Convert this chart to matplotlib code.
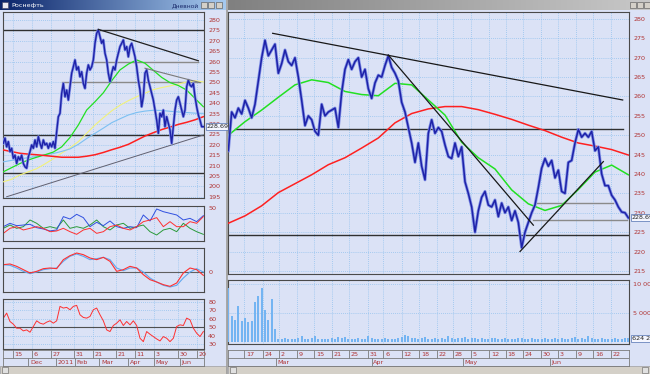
import numpy as np
import matplotlib
matplotlib.use('Agg')
import matplotlib.pyplot as plt
from matplotlib.patches import Rectangle
from matplotlib.colors import LinearSegmentedColormap

# ======================= DATA =======================
# ---- left window (daily, Nov 2010 - Jun 2011) ----
left_close = [220.7, 223.2, 219, 221.5, 216.7, 218.3, 213.5, 215, 211, 214.2,
              212.7, 215, 211, 209.4, 208.7, 214.2, 216.7, 219.9, 218.3, 222.3,
              219, 223.9, 220.7, 218.3, 222.3, 219.9, 220.7, 218.3, 220.7, 219,
              221.5, 218.3, 226.3, 233.5, 235.1, 244.7, 249.5, 243.1, 246.3, 241.5,
              247.9, 254.4, 257.5, 260.8, 256, 257.5, 252.7, 255.1, 249.5, 247.1,
              254.4, 258.4, 256, 257.5, 260.8, 268.8, 273.6, 275.2, 272, 268.8,
              270.4, 264, 260.8, 254.4, 250.3, 254.4, 257.5, 256, 260.8, 264,
              267.2, 268.8, 270.4, 265.6, 267.2, 262.3, 267.2, 268.8, 265.6, 262.3,
              257.5, 251.1, 246.3, 238.3, 243.1, 254.4, 256, 251.1, 247.9, 244.7,
              241.5, 236.7, 231.9, 225.5, 235.1, 233.5, 236.7, 228.7, 233.5, 230.3,
              227.1, 220.7, 228.7, 236.7, 241.5, 243.1, 240, 236.7, 233.5, 236.7,
              247.9, 251.1, 248.7, 247.9, 249.5, 243.1, 238.3, 234.3, 231.9, 228.7,
              228.7]
# moving averages, one value every 5 bars
left_ma_green = [207, 209, 211, 212.7, 214, 215.2, 216.5, 219, 223.5, 229.5, 236.7, 240.7,
                 245, 250.8, 256, 258.8, 260.8, 259.2, 255.8, 252.4, 249.9, 248.5, 246.3,
                 242.3, 238.3]
left_ma_yellow = [202.2, 203.4, 205.5, 207, 208.5, 210.8, 213.3, 216, 218.5, 221.5, 225.5,
                  229.5, 233, 236.3, 239, 241.2, 243.1, 244.8, 246.5, 247.5, 248.3, 249.2,
                  250.2, 250.8, 250.2]
left_ma_blue = [211.8, 212.5, 213.2, 213.8, 214.4, 215.2, 215.8, 216.8, 218, 220.2, 223,
                225.5, 228, 230.6, 232.5, 234.3, 235.5, 236.2, 236.6, 236.5, 236.1, 235.8,
                235.5, 235.2, 235.1]
left_ma_red = [217.5, 216.7, 215.9, 215.5, 215.2, 214.8, 214.4, 214, 214, 214, 214.5, 215.2,
               216.3, 217.6, 218.8, 220.2, 222.2, 224.2, 225.8, 227.3, 228.5, 229.8, 230.8,
               232, 233.5]
left_hlines = [275.2, 224.7, 206.3]
left_trend_dark = ([57, 117], [275.5, 260.4])
left_trend_gray = ([85, 118], [256.8, 249.9])
left_trend_up = ([2, 120], [195.0, 224.7])
left_gray_h = [([54, 117], 260.0), ([35, 118], 250.3)]
left_last = '228.69'

# DMI-like panel (one value every 4 bars)
dmi_blue = [21.7, 26.8, 23.2, 24.2, 25.3, 20.2, 18.2, 15.2, 16.7, 36.9, 33.3, 40.4, 35.4,
            21.7, 28.3, 23.2, 30.3, 21.7, 19.2, 21.7, 20.2, 39.4, 30.3, 48.5, 44.4, 41.9,
            39.4, 31.8, 34.3, 29.3, 38.4]
dmi_red = [11.6, 19.2, 21.7, 16.7, 19.2, 21.7, 19.2, 14.1, 15.2, 19.2, 14.1, 10.1, 16.7,
           19.2, 11.6, 14.1, 21.7, 24.2, 19.2, 16.7, 21.7, 29.3, 31.8, 35.4, 21.7, 29.3,
           21.7, 21.7, 29.3, 26.8, 36.9]
dmi_green = [19.2, 24.2, 19.2, 21.7, 31.8, 26.8, 19.2, 21.7, 19.2, 31.8, 19.2, 21.7, 19.2,
             24.2, 31.8, 21.7, 16.7, 24.2, 26.8, 19.2, 21.7, 24.2, 14.1, 9.1, 16.7, 19.2,
             14.1, 26.8, 19.2, 14.1, 10.1]
# MACD-like panel (one value every 4 bars)
macd_red = [2.3, 2.5, 1.8, 0.8, -0.2, 0.3, 1.1, 1.3, 1.1, 3.8, 5.0, 5.8, 5.3, 4.3, 3.8, 4.5,
            3.3, 0.3, 0.8, 1.8, 1.3, -0.7, -2.2, -2.9, -3.7, -4.2, -3.2, -0.2, 1.3, 0.8, -0.9]
macd_blue = [2.3, 2.1, 1.3, 0.3, -0.4, 0.1, 0.8, 1.1, 1.3, 3.3, 4.8, 5.5, 4.8, 3.8, 4.1, 4.5,
             3.8, 1.3, 0.5, 1.3, 1.3, 0.1, -1.7, -2.9, -3.9, -4.4, -3.9, -1.7, 0.1, 1.1, 0.1]
# RSI (one value every 2 bars)
rsi = [60.8, 66.8, 56.8, 53.6, 48.8, 48.8, 45.6, 46.8, 44, 50.8, 57.6, 54.8, 53.6, 56, 57.6,
       54.8, 57.6, 74.8, 72.8, 73.6, 70.8, 74.8, 76, 64.8, 61.6, 60.8, 62.8, 70.8, 72.8, 64.8,
       57.6, 46.8, 44.8, 52, 54.8, 58.8, 52, 56.8, 52.8, 57.6, 52, 36.8, 32.8, 44.8, 41.6,
       38.8, 36, 33.6, 38.8, 36.8, 32.8, 36.8, 50.8, 52.8, 52, 60.8, 58.8, 48.8, 42.8, 38.8,
       44.8]

left_day_pos = [5.6, 17, 28.4, 42.4, 54, 67.6, 79, 90.4, 105, 116]
left_day_lab = ['15', '6', '27', '31', '21', '21', '11', '3', '30', '20']
left_mon_pos = [15, 31.6, 43, 57.6, 75, 90.4, 106]
left_mon_lab = ['Dec', '2011', 'Feb', 'Mar', 'Apr', 'May', 'Jun']

# ---- right window (Feb - Jun 2011) ----
right_close = [246, 256, 254.5, 257, 255.5, 259, 257, 254.5, 258, 264, 270, 274.5, 270.5, 272,
               273.5, 266, 268.5, 272, 269, 268, 270, 265, 259, 252.5, 255, 254, 251, 250,
               258, 255, 256, 256.5, 257, 252, 261, 267, 269.5, 267, 269, 270, 265, 267, 262,
               259.5, 263.5, 265.5, 265, 268, 270.5, 267.5, 266, 264, 258.5, 256, 252, 248,
               243, 248, 242, 238.5, 250.5, 254, 250.5, 252, 251,
               247.5, 244.5, 244, 248, 244.5, 247, 238, 235, 231.5, 225, 230.5, 234, 235.5,
               232, 231.5, 233.3, 229, 232.5, 230, 231.5, 228, 230.5, 227.5, 221, 225, 227.5,
               230, 232, 236.5, 241.5, 244, 242, 243.5, 239, 241, 235.5, 235, 243, 243.5, 248,
               251.5, 249.5, 250.5, 249.5, 251, 246, 247, 240, 237, 237, 234.5, 233.3, 231.5,
               230.2, 230, 228.7]
# moving averages, one value every 5 bars
right_ma_green = [250, 253.5, 256.5, 259.8, 263, 264.3, 263.6, 261.3, 260.5, 260.2, 263.4,
                  263, 259.1, 255.2, 248.2, 244.2, 241.3, 235.9, 232.3, 230.6, 231.9, 236,
                  240.5, 242.3, 239.8]
right_ma_red = [227.3, 229.2, 231.8, 235.2, 237.5, 239.8, 242.4, 244.2, 246.7, 249.3, 253.2,
                255.6, 256.8, 257.4, 257.4, 256.6, 255.4, 254.1, 252.6, 251.2, 249.5, 248,
                247.2, 246.3, 244.9]
# volume, millions of shares
right_volume_m = [9.2, 4.4, 3.7, 6.2, 3.6, 4.0, 3.4, 3.6, 6.8, 7.8, 9.2, 5.5, 3.8, 7.3, 2.2,
                  0.5, 0.4, 0.6, 0.4, 0.5, 0.4, 0.6, 0.9, 0.5, 0.4,
                  0.6, 1.0, 0.5, 0.4, 0.5, 0.4, 0.6, 0.5, 0.8, 0.7,
                  0.8, 0.5, 0.4, 0.5, 0.6, 0.4, 0.5, 0.9, 0.6, 0.4,
                  0.5, 0.4, 0.6, 0.5, 0.4, 0.5, 0.7, 0.8, 1.1, 1.0,
                  0.6, 0.7, 0.5, 0.6, 0.8, 0.5, 0.4, 0.6, 0.5, 0.6,
                  0.5, 0.9, 0.6, 0.5, 0.7, 0.6, 0.8, 0.5, 0.6, 0.7,
                  0.5, 0.6, 0.4, 0.5, 0.6, 0.7, 0.5, 0.4, 0.6, 0.5,
                  0.4, 0.5, 0.7, 0.6, 0.5, 0.4, 0.6, 0.5, 0.4, 0.5,
                  0.6, 0.5, 0.4, 0.6, 0.5, 0.7, 0.5, 0.4, 0.6, 0.8,
                  0.5, 0.6, 0.5, 0.9, 0.6, 0.5, 0.4, 0.6, 0.5, 0.4,
                  0.5, 0.6, 0.4, 0.5, 0.6, 0.624257]
right_hline_full = 224.3
right_hline_part = ([2, 118.3], 251.5)
right_trend_long = ([13.3, 118.3], [276.3, 259.1])
right_trend_steep = ([48, 91.5], [270.7, 226.8])
right_trend_up = ([87.5, 112.5], [220.0, 243.2])
right_gray_h = [([92.5, 115.5], 232.4), ([91.4, 119.6], 228.1)]
right_last = '228.69'
right_vol_last = '624 257'

right_day_pos = [4.8, 10.5, 15.2, 20.5, 25.8, 31.0, 36.3, 41.8, 46.5, 52.0, 57.3, 62.7,
                 67.5, 72.8, 78.3, 83.3, 88.5, 93.8, 99.0, 104.3, 109.5, 114.7]
right_day_lab = ['17', '24', '2', '9', '15', '21', '25', '31', '6', '12', '18', '22',
                 '28', '5', '12', '18', '24', '30', '3', '9', '16', '22']
right_mon_pos = [14.2, 43, 70.3, 96.5]
right_mon_lab = ['Mar', 'Apr', 'May', 'Jun']

# ======================= STYLE =======================
W, H = 650, 374
BG = '#dbe2f6'
GRID = '#93c2ee'
FRAME = '#4a4a4a'
LBL = '#b03434'
PRICE = '#1e22a8'
PRICE_EDGE = '#7f8ee6'
FS = 4.6

fig = plt.figure(figsize=(W / 100, H / 100), dpi=100)
fig.patch.set_facecolor(BG)


def pax(x0, y0, x1, y1, z=1):
    a = fig.add_axes([x0 / W, 1 - y1 / H, (x1 - x0) / W, (y1 - y0) / H])
    a.set_zorder(z)
    return a


# ---- background / window chrome ----
bg = pax(0, 0, W, H, z=0)
bg.axis('off')
grad = np.linspace(0, 1, 256).reshape(1, -1)
bg.imshow(grad, extent=(0, 226, 10, 0), aspect='auto',
          cmap=LinearSegmentedColormap.from_list('act', ['#0a246a', '#a6caf0']))
bg.imshow(grad, extent=(228, 650, 10, 0), aspect='auto',
          cmap=LinearSegmentedColormap.from_list('ina', ['#808080', '#c8c8c8']))
bg.add_patch(Rectangle((2, 2), 6, 6, fc='#e8e8f0', ec='#404060', lw=0.4))
bg.text(11, 5.2, 'Роснефть', color='white', fontsize=4.6, va='center', ha='left')
bg.text(199, 5.2, 'Дневной', color='#1a2a6a', fontsize=4.3, va='center', ha='right')
for bx in (201, 208, 216):
    bg.add_patch(Rectangle((bx, 2), 6, 6, fc='#d4d0c8', ec='#505050', lw=0.4))
for bx in (630, 637, 644):
    bg.add_patch(Rectangle((bx, 2), 6, 6, fc='#d4d0c8', ec='#505050', lw=0.4))
bg.add_patch(Rectangle((226, 0), 2, H, fc='#a8a8a8', ec='none'))
bg.add_patch(Rectangle((0, 366), 226, 8, fc='#d4d0c8', ec='#909090', lw=0.4))
bg.add_patch(Rectangle((228, 366), 422, 8, fc='#d4d0c8', ec='#909090', lw=0.4))
bg.add_patch(Rectangle((2, 367), 6, 6, fc='#e0e0e0', ec='#606060', lw=0.4))
bg.add_patch(Rectangle((230, 367), 6, 6, fc='#e0e0e0', ec='#606060', lw=0.4))
bg.add_patch(Rectangle((642, 367), 6, 6, fc='#e0e0e0', ec='#606060', lw=0.4))
bg.set_xlim(0, W)
bg.set_ylim(H, 0)


def style(ax, xlim, ylim, xt, yt=None, ylabels=None, ygrid=True):
    ax.set_facecolor(BG)
    ax.set_xlim(*xlim)
    ax.set_ylim(*ylim)
    for s in ax.spines.values():
        s.set_color(FRAME)
        s.set_linewidth(0.8)
    ax.set_xticks(xt)
    ax.tick_params(axis='x', length=0, labelbottom=False)
    ax.yaxis.tick_right()
    if yt is not None:
        ax.set_yticks(yt)
        if ylabels is not None:
            ax.set_yticklabels(ylabels)
    else:
        ax.set_yticks([])
    ax.tick_params(axis='y', length=0, labelsize=FS, labelcolor=LBL, pad=3)
    ax.grid(True, axis='x', color=GRID, ls=(0, (1, 1.5)), lw=0.6)
    if ygrid:
        ax.grid(True, axis='y', color=GRID, ls=(0, (1, 1.5)), lw=0.6)
    ax.set_axisbelow(True)


def value_box(ax, text, yval):
    ax.annotate(text, xy=(1, yval), xycoords=('axes fraction', 'data'),
                xytext=(2, 0), textcoords='offset points', va='center', ha='left',
                fontsize=FS, color='#202020', annotation_clip=False, zorder=10,
                bbox=dict(boxstyle='square,pad=0.15', fc='#f4f6ff', ec='#5070b0', lw=0.5))


def date_rows(ax, xlim, dpos, dlab, mpos, mlab):
    ax.set_facecolor(BG)
    ax.set_xlim(*xlim)
    ax.set_ylim(2, 0)
    ax.set_xticks([])
    ax.set_yticks([])
    for s in ax.spines.values():
        s.set_color('#7a7a7a')
        s.set_linewidth(0.6)
    ax.axhline(1, color='#7a7a7a', lw=0.6)
    ax.vlines(dpos, 0, 1, color='#7a7a7a', lw=0.6)
    ax.vlines(mpos, 1, 2, color='#7a7a7a', lw=0.6)
    for p, t in zip(dpos, dlab):
        ax.annotate(t, xy=(p, 0.55), xytext=(1.2, 0), textcoords='offset points',
                    fontsize=FS, color=LBL, va='center', ha='left')
    for p, t in zip(mpos, mlab):
        ax.annotate(t, xy=(p, 1.55), xytext=(1.2, 0), textcoords='offset points',
                    fontsize=FS, color=LBL, va='center', ha='left')


# ======================= LEFT WINDOW =======================
lx = np.arange(len(left_close))
lxlim = (-0.2, 120.4)
l_ma_x = np.arange(0, 121, 5)

axL = pax(3, 12, 204, 198)
style(axL, lxlim, (194.4, 283.85), left_day_pos, list(range(195, 281, 5)))
for h in left_hlines:
    axL.axhline(h, color='#303030', lw=1.0, zorder=2)
for (xs, yv) in left_gray_h:
    axL.plot(xs, [yv, yv], color='#8a8a8a', lw=1.0, zorder=2)
axL.plot(*left_trend_up, color='#606070', lw=0.7, zorder=2)
axL.plot(l_ma_x, left_ma_yellow, color='#f2f27a', lw=0.8, zorder=3)
axL.plot(l_ma_x, left_ma_blue, color='#7cc0f2', lw=0.8, zorder=3)
axL.plot(l_ma_x, left_ma_green, color='#22e022', lw=0.9, zorder=3)
axL.plot(l_ma_x, left_ma_red, color='#ff2020', lw=1.1, zorder=3)
axL.plot(lx, left_close, color=PRICE_EDGE, lw=2.0, zorder=4)
axL.plot(lx, left_close, color=PRICE, lw=1.0, zorder=4)
axL.plot(*left_trend_dark, color='#202020', lw=0.9, zorder=5)
axL.plot(*left_trend_gray, color='#7a7a7a', lw=0.8, zorder=5)
value_box(axL, left_last, left_close[-1])

sx4 = np.arange(0, 121, 4)
ax2 = pax(3, 206, 204, 241)
style(ax2, lxlim, (0, 53), left_day_pos, [50], ygrid=False)
ax2.plot(sx4, dmi_green, color='#2a9a3a', lw=0.7)
ax2.plot(sx4, dmi_blue, color='#3050e0', lw=0.7)
ax2.plot(sx4, dmi_red, color='#ff3030', lw=0.7)

ax3 = pax(3, 248, 204, 292)
style(ax3, lxlim, (-5.9, 7.3), left_day_pos, [0], ygrid=False)
ax3.axhline(0, color='#606060', lw=0.8)
ax3.plot(sx4, macd_blue, color='#60a8f0', lw=0.8)
ax3.plot(sx4, macd_red, color='#ff3030', lw=0.8)

sx2 = np.arange(0, 121, 2)
ax4 = pax(3, 299, 204, 349)
style(ax4, lxlim, (24, 83.6), left_day_pos, [30, 40, 50, 60, 70, 80])
ax4.axhline(50, color='#505050', lw=0.8)
ax4.plot(sx2, rsi, color='#ff3030', lw=0.7)

axLd = pax(3, 350, 204, 366)
date_rows(axLd, lxlim, left_day_pos, left_day_lab, left_mon_pos, left_mon_lab)

# ======================= RIGHT WINDOW =======================
rx = np.arange(len(right_close))
rxlim = (-0.1, 120.2)
r_ma_x = np.arange(0, 121, 5)

axR = pax(228, 12, 629, 274)
style(axR, rxlim, (214.2, 281.8), right_day_pos, list(range(215, 281, 5)))
axR.axhline(right_hline_full, color='#303030', lw=1.0, zorder=2)
axR.plot(right_hline_part[0], [right_hline_part[1]] * 2, color='#303030', lw=1.0, zorder=2)
for (xs, yv) in right_gray_h:
    axR.plot(xs, [yv, yv], color='#8a8a8a', lw=1.0, zorder=2)
axR.plot(r_ma_x, right_ma_red, color='#ff2020', lw=1.1, zorder=3)
axR.plot(r_ma_x, right_ma_green, color='#22e022', lw=1.1, zorder=3)
axR.plot(rx, right_close, color=PRICE_EDGE, lw=2.2, zorder=4)
axR.plot(rx, right_close, color=PRICE, lw=1.1, zorder=4)
for tl in (right_trend_long, right_trend_steep, right_trend_up):
    axR.plot(*tl, color='#181818', lw=0.9, zorder=5)
value_box(axR, right_last, right_close[-1])

axV = pax(228, 280, 629, 344)
style(axV, rxlim, (-0.4e6, 10.64e6), right_day_pos, [5e6, 10e6],
      ylabels=['5 000 000', '10 000 000'])
axV.bar(rx, np.array(right_volume_m) * 1e6, width=0.6, color='#74b4f2', zorder=3)
value_box(axV, right_vol_last, right_volume_m[-1] * 1e6)

axRd = pax(228, 350, 629, 366)
date_rows(axRd, rxlim, right_day_pos, right_day_lab, right_mon_pos, right_mon_lab)

fig.savefig('out.png', dpi=100, facecolor=fig.get_facecolor())
